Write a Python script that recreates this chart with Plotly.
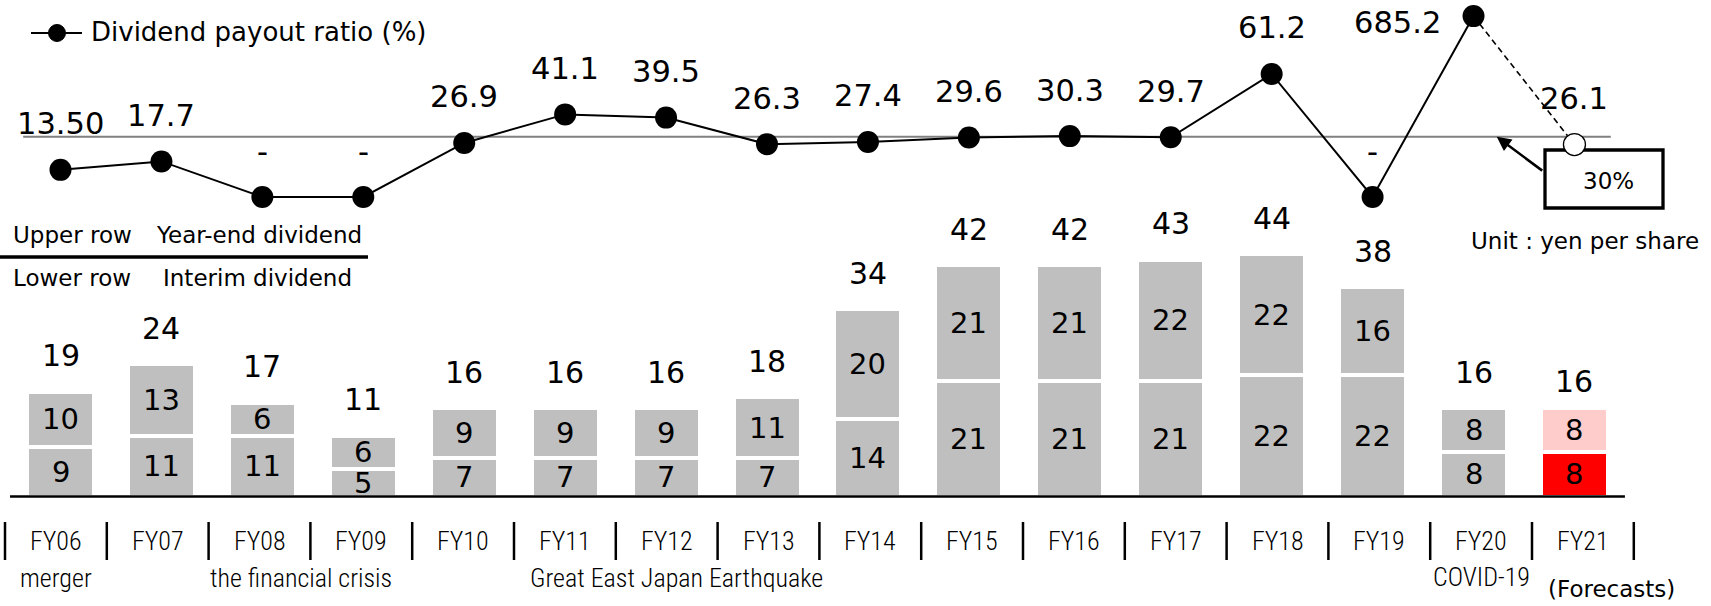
import plotly.graph_objects as go

W, H = 1711, 606

# ---- data -------------------------------------------------------------
years = ["FY06", "FY07", "FY08", "FY09", "FY10", "FY11", "FY12", "FY13",
         "FY14", "FY15", "FY16", "FY17", "FY18", "FY19", "FY20", "FY21"]
interim = [9, 11, 11, 5, 7, 7, 7, 7, 14, 21, 21, 21, 22, 22, 8, 8]
year_end = [10, 13, 6, 6, 9, 9, 9, 11, 20, 21, 21, 22, 22, 16, 8, 8]
# None = no payout ratio (net loss), drawn at zero and labelled "-"
payout = [13.50, 17.7, None, None, 26.9, 41.1, 39.5, 26.3, 27.4, 29.6,
          30.3, 29.7, 61.2, None, 685.2, 26.1]
payout_decimals = {"FY06": 2}
forecast_year = "FY21"
target_ratio = 30
series_name = "Dividend payout ratio (%)"
event_notes = {"FY06": "merger", "FY08": "the financial crisis",
               "FY11": "Great East Japan Earthquake", "FY20": "COVID-19",
               "FY21": "(Forecasts)"}

# ---- style ------------------------------------------------------------
GRAY = "#BFBFBF"
RED = "#FF0000"
PINK = "#FFCCCC"
NUM_FONT = "DejaVu Sans"
NARROW_FONT = "Roboto Condensed, DejaVu Sans Condensed, sans-serif"

# payout axis is broken above AXIS_BREAK so the FY20 outlier stays on the page
AXIS_BREAK = 70
ABOVE_BREAK_SCALE = 0.0325


def ratio_pos(v):
    if v is None:
        return 0
    if v <= AXIS_BREAK:
        return v
    return AXIS_BREAK + (v - AXIS_BREAK) * ABOVE_BREAK_SCALE


def ratio_label(y, v):
    if v is None:
        return "-"
    return f"{v:.{payout_decimals.get(y, 1)}f}"


def px(x, y):
    """pixel position -> paper fraction"""
    return x / W, 1 - y / H


def paper_text(txt, x, y, size, family=NUM_FONT, xanchor="center"):
    xp, yp = px(x, y)
    return dict(x=xp, y=yp, xref="paper", yref="paper", xanchor=xanchor, yanchor="middle",
                text=txt, showarrow=False, font=dict(size=size, family=family, color="black"))


n = len(years)
fi = years.index(forecast_year)
totals = [a + b for a, b in zip(interim, year_end)]
pos = [ratio_pos(v) for v in payout]

low_colors = [RED if y == forecast_year else GRAY for y in years]
up_colors = [PINK if y == forecast_year else GRAY for y in years]

fig = go.Figure()

fig.add_trace(go.Bar(x=years, y=interim, marker=dict(color=low_colors, line=dict(color="white", width=4)),
                     width=0.664, showlegend=False, hoverinfo="skip"))
fig.add_trace(go.Bar(x=years, y=year_end, marker=dict(color=up_colors, line=dict(color="white", width=4)),
                     width=0.664, showlegend=False, hoverinfo="skip"))

# forecast segment (dashed) and open marker
fig.add_trace(go.Scatter(x=years[fi - 1:fi + 1], y=pos[fi - 1:fi + 1], yaxis="y2", mode="lines",
                         line=dict(color="black", width=1.6, dash="6px,4px"), showlegend=False, hoverinfo="skip"))
fig.add_trace(go.Scatter(x=[years[fi]], y=[pos[fi]], yaxis="y2", mode="markers",
                         marker=dict(size=22, color="white", line=dict(color="black", width=1.3)),
                         showlegend=False, hoverinfo="skip"))
# actual payout ratio
fig.add_trace(go.Scatter(x=years[:fi], y=pos[:fi], yaxis="y2", mode="lines+markers",
                         name=series_name, showlegend=False,
                         line=dict(color="black", width=2), marker=dict(size=22, color="black"),
                         hoverinfo="skip"))

ann = []
# bar segment values, totals and payout labels
for i, y in enumerate(years):
    ann.append(dict(x=i, y=interim[i] / 2, xref="x", yref="y", text=str(interim[i]), showarrow=False,
                    font=dict(size=29, family=NUM_FONT, color="black")))
    ann.append(dict(x=i, y=interim[i] + year_end[i] / 2, xref="x", yref="y", text=str(year_end[i]),
                    showarrow=False, font=dict(size=29, family=NUM_FONT, color="black")))
    ann.append(dict(x=i, y=totals[i], xref="x", yref="y", yshift=27 if y == forecast_year else 36,
                    text=str(totals[i]), showarrow=False,
                    font=dict(size=30, family=NUM_FONT, color="black")))
    lab = dict(x=i, y=pos[i], xref="x", yref="y2", yshift=46, text=ratio_label(y, payout[i]),
               showarrow=False, font=dict(size=30.5, family=NUM_FONT, color="black"))
    if payout[i] is not None and payout[i] > AXIS_BREAK:
        lab.update(xanchor="right", xshift=-31, yshift=-6)
    ann.append(lab)

# category labels on the lower axis row
for i, y in enumerate(years):
    ann.append(dict(x=i, y=px(0, 541)[1], xref="x2", yref="paper", yanchor="middle", text=y,
                    showarrow=False, font=dict(size=26, family=NARROW_FONT, color="black", weight=300)))

note_place = {"FY06": (0.0, 578), "FY08": (2.41, 578), "FY11": (6.10, 578), "FY20": (14.0, 577),
              "FY21": (15.28, 589)}
for y, txt in event_notes.items():
    xp, yp = note_place[y]
    if y == forecast_year:
        font = dict(size=23, family=NUM_FONT, color="black")
    else:
        font = dict(size=26, family=NARROW_FONT, color="black", weight=300)
    ann.append(dict(x=xp, y=px(0, yp)[1], xref="x2", yref="paper", yanchor="middle", text=txt,
                    showarrow=False, font=font))

# legend key
ann.append(paper_text(series_name, 89, 32, 26, xanchor="left"))

# row key
ann.append(paper_text("Upper row", 11, 235, 23, xanchor="left"))
ann.append(paper_text("Year-end dividend", 154, 235, 23, xanchor="left"))
ann.append(paper_text("Lower row", 11, 278, 23, xanchor="left"))
ann.append(paper_text("Interim dividend", 161, 278, 23, xanchor="left"))

ann.append(paper_text("Unit : yen per share", 1585, 241, 23))
ann.append(paper_text(f"{target_ratio}%", 1608, 181, 23))
# arrow from the target box to the target line
ann.append(dict(x=14.23, y=target_ratio, xref="x", yref="y2", ax=47, ay=35, text="", showarrow=True,
                arrowhead=2, arrowsize=1.1, arrowwidth=2.6, arrowcolor="black"))

shapes = []
# legend glyph
lx0, ly = px(31, 33)
lx1, _ = px(82, 33)
shapes.append(dict(type="line", xref="paper", yref="paper", x0=lx0, x1=lx1, y0=ly, y1=ly,
                   line=dict(color="black", width=2)))
cx0, cy0 = px(48.5, 41.5)
cx1, cy1 = px(65.5, 24.5)
shapes.append(dict(type="circle", xref="paper", yref="paper", x0=cx0, x1=cx1, y0=cy0, y1=cy1,
                   fillcolor="black", line=dict(color="black", width=1)))
# target payout ratio line
shapes.append(dict(type="line", xref="x", yref="y2", x0=-0.37, x1=15.36, y0=target_ratio, y1=target_ratio,
                   line=dict(color="#808080", width=2), layer="below"))
# baseline of the bars
shapes.append(dict(type="line", xref="x", yref="y", x0=-0.5, x1=15.5, y0=0, y1=0,
                   line=dict(color="black", width=2.5), layer="above"))
# separators between categories
for k in range(n + 1):
    shapes.append(dict(type="line", xref="x2", yref="paper", x0=k - 0.5, x1=k - 0.5,
                       y0=px(0, 560)[1], y1=px(0, 522)[1], line=dict(color="black", width=2.5)))
# underline of the row key
x0, y0 = px(0, 257)
x1, _ = px(368, 257)
shapes.append(dict(type="line", xref="paper", yref="paper", x0=x0, x1=x1, y0=y0, y1=y0,
                   line=dict(color="black", width=3.3)))
# target box
bx0, by0 = px(1545, 208)
bx1, by1 = px(1663, 150)
shapes.append(dict(type="rect", xref="paper", yref="paper", x0=bx0, x1=bx1, y0=by0, y1=by1,
                   line=dict(color="black", width=3.3), fillcolor="white", layer="below"))

x_unit = 100.93
x_r0 = -60.5 / x_unit
x2_unit = 101.8
x2_r0 = -55.9 / x2_unit
y_unit, y_zero = 5.51, 496.5
y2_unit, y2_zero = 2.01, 197

fig.update_layout(
    width=W, height=H, margin=dict(l=0, r=0, t=0, b=0),
    paper_bgcolor="white", plot_bgcolor="white",
    barmode="stack", bargap=0, showlegend=False,
    xaxis=dict(range=[x_r0, x_r0 + W / x_unit], visible=False, domain=[0, 1]),
    xaxis2=dict(range=[x2_r0, x2_r0 + W / x2_unit], visible=False, overlaying="x", domain=[0, 1]),
    yaxis=dict(range=[-(H - y_zero) / y_unit, y_zero / y_unit], visible=False, domain=[0, 1]),
    yaxis2=dict(range=[-(H - y2_zero) / y2_unit, y2_zero / y2_unit], visible=False, overlaying="y"),
    annotations=ann, shapes=shapes,
)

fig.write_html("out.html")
